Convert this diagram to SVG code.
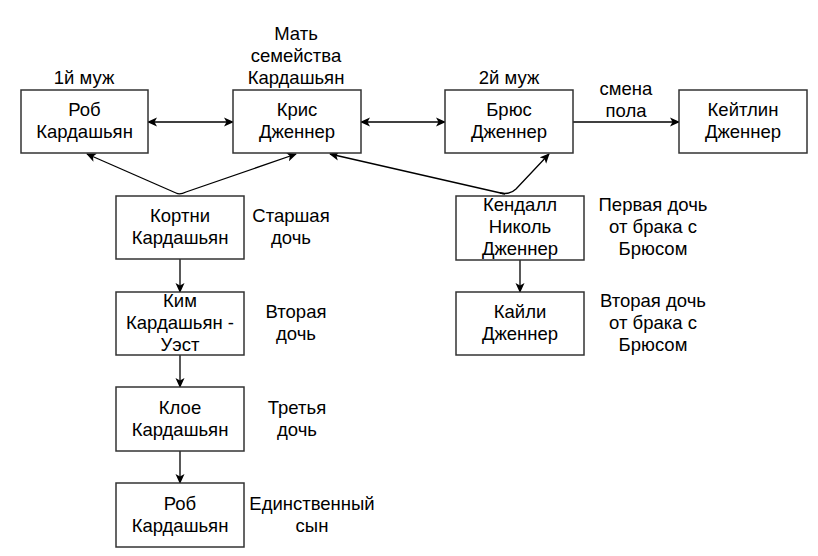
<svg xmlns="http://www.w3.org/2000/svg" width="818" height="556" viewBox="0 0 818 556">
<defs>
<marker id="ah" viewBox="0 0 10 10" refX="9" refY="5" markerWidth="10" markerHeight="10" markerUnits="userSpaceOnUse" orient="auto-start-reverse">
<path d="M0,0.5 L10,5 L0,9.5 L2.5,5 Z" fill="#000"/>
</marker>
<style>
.box{fill:#fff;stroke:#333;stroke-width:1.5}
text{font-family:"Liberation Sans",Arial,sans-serif;font-size:18.5px;fill:#000;text-anchor:middle}
.e{fill:none;stroke:#000;stroke-width:1.3}
</style>
</defs>
<rect width="818" height="556" fill="#fff"/>
<g id="connectors">
<path class="e" d="M148,122 L233,122" marker-start="url(#ah)" marker-end="url(#ah)"/>
<path class="e" d="M361,122 L445,122" marker-start="url(#ah)" marker-end="url(#ah)"/>
<path class="e" d="M573,122 L679,122" marker-end="url(#ah)"/>
<path class="e" d="M176,193 L87,154" marker-end="url(#ah)"/>
<path class="e" d="M176,193 Q180,195 186,192 L296,154" marker-end="url(#ah)"/>
<path class="e" d="M505,194 L330,154" marker-end="url(#ah)"/>
<path class="e" d="M500,193 Q510,195 516,189 L549,154" marker-end="url(#ah)"/>
<path class="e" d="M180,259 L180,292" marker-end="url(#ah)"/>
<path class="e" d="M180,355 L180,387" marker-end="url(#ah)"/>
<path class="e" d="M180,451 L180,483" marker-end="url(#ah)"/>
<path class="e" d="M520,260 L520,292" marker-end="url(#ah)"/>
</g>
<g id="rob"><rect class="box" x="21" y="90" width="127" height="63"/><text x="84.5" y="116">Роб</text><text x="84.5" y="138">Кардашьян</text></g>
<g id="kris"><rect class="box" x="233" y="90" width="128" height="63"/><text x="297" y="116">Крис</text><text x="297" y="138">Дженнер</text></g>
<g id="bruce"><rect class="box" x="445" y="90" width="128" height="63"/><text x="509" y="116">Брюс</text><text x="509" y="138">Дженнер</text></g>
<g id="caitlyn"><rect class="box" x="679" y="90" width="128" height="63"/><text x="743" y="116">Кейтлин</text><text x="743" y="138">Дженнер</text></g>
<g id="kortni"><rect class="box" x="116" y="196" width="128" height="63"/><text x="180" y="222">Кортни</text><text x="180" y="244">Кардашьян</text></g>
<g id="kim"><rect class="box" x="116" y="292" width="128" height="63"/><text x="180" y="307">Ким</text><text x="180" y="329">Кардашьян -</text><text x="180" y="351">Уэст</text></g>
<g id="chloe"><rect class="box" x="116" y="387" width="128" height="64"/><text x="180" y="414">Клое</text><text x="180" y="436">Кардашьян</text></g>
<g id="robjr"><rect class="box" x="116" y="483" width="128" height="64"/><text x="180" y="510">Роб</text><text x="180" y="532">Кардашьян</text></g>
<g id="kendall"><rect class="box" x="456" y="196" width="128" height="64"/><text x="520" y="211">Кендалл</text><text x="520" y="233">Николь</text><text x="520" y="255">Дженнер</text></g>
<g id="kylie"><rect class="box" x="456" y="292" width="128" height="63"/><text x="520" y="318">Кайли</text><text x="520" y="340">Дженнер</text></g>
<g id="labels">
<text x="84" y="84">1й муж</text>
<text x="296" y="40">Мать</text><text x="296" y="62">семейства</text><text x="296" y="84">Кардашьян</text>
<text x="509" y="84">2й муж</text>
<text x="626" y="95">смена</text><text x="626" y="117">пола</text>
<text x="291" y="222">Старшая</text><text x="291" y="244">дочь</text>
<text x="296" y="318">Вторая</text><text x="296" y="340">дочь</text>
<text x="297" y="414">Третья</text><text x="297" y="436">дочь</text>
<text x="312" y="510">Единственный</text><text x="312" y="532">сын</text>
<text x="653" y="211">Первая дочь</text><text x="653" y="233">от брака с</text><text x="653" y="255">Брюсом</text>
<text x="653" y="307">Вторая дочь</text><text x="653" y="329">от брака с</text><text x="653" y="351">Брюсом</text>
</g>
</svg>
